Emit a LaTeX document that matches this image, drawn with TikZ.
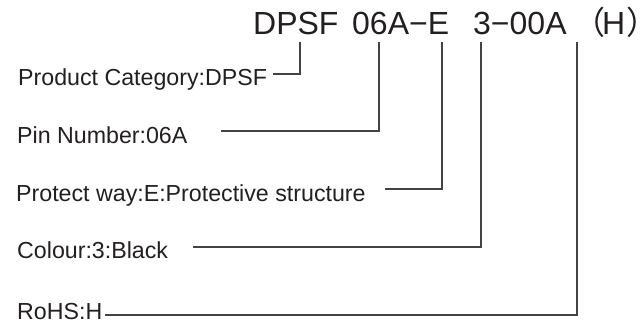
\documentclass[tikz,border=0pt]{standalone}
\usepackage{fontspec}
\setmainfont{Liberation Sans}
\newfontfamily\cjkf{Noto Sans CJK SC}
\definecolor{ink}{RGB}{35,31,32}
\definecolor{wire}{RGB}{70,66,65}
\begin{document}
\begin{tikzpicture}[x=1pt,y=-1pt,
  lbl/.style={anchor=base west,inner sep=0pt,text=ink,font=\fontsize{23.2}{27}\selectfont},
  ttl/.style={anchor=base west,inner sep=0pt,text=ink,font=\fontsize{32}{36}\selectfont},
  wireline/.style={draw=wire,line width=1.4pt}]
\useasboundingbox (0,0) rectangle (642,324);
% title parts
\node[ttl] (t1) at (253,34) {DPSF};
\node[ttl] (t2) at (352,34) {06A−E};
\node[ttl] (t3) at (473,34) {3−00A};
\node[ttl] (t4) at (573,34) {{\cjkf （}\kern-3ptH\kern1pt{\cjkf ）}};
% tick tops
\coordinate (k1) at (300,42);
\coordinate (k2) at (379,42);
\coordinate (k3) at (442,42);
\coordinate (k4) at (481,42);
\coordinate (k5) at (577,42);
% labels
\node[lbl] (pc) at (18,85) {Product Category:DPSF};
\node[lbl] (pn) at (17,143) {Pin Number:06A};
\node[lbl] (pw) at (16,201) {Protect way:E:Protective structure};
\node[lbl] (co) at (17,258) {Colour:3:Black};
\node[lbl] (ro) at (17,319) {RoHS:H};
% line starts
\coordinate (s1) at (273,74);
\coordinate (s2) at (221,131);
\coordinate (s3) at (385,189);
\coordinate (s4) at (193,247);
\coordinate (s5) at (105,315);
\draw[wireline] (s1) -| (k1);
\draw[wireline] (s2) -| (k2);
\draw[wireline] (s3) -| (k3);
\draw[wireline] (s4) -| (k4);
\draw[wireline] (s5) -| (k5);
\end{tikzpicture}
\end{document}
